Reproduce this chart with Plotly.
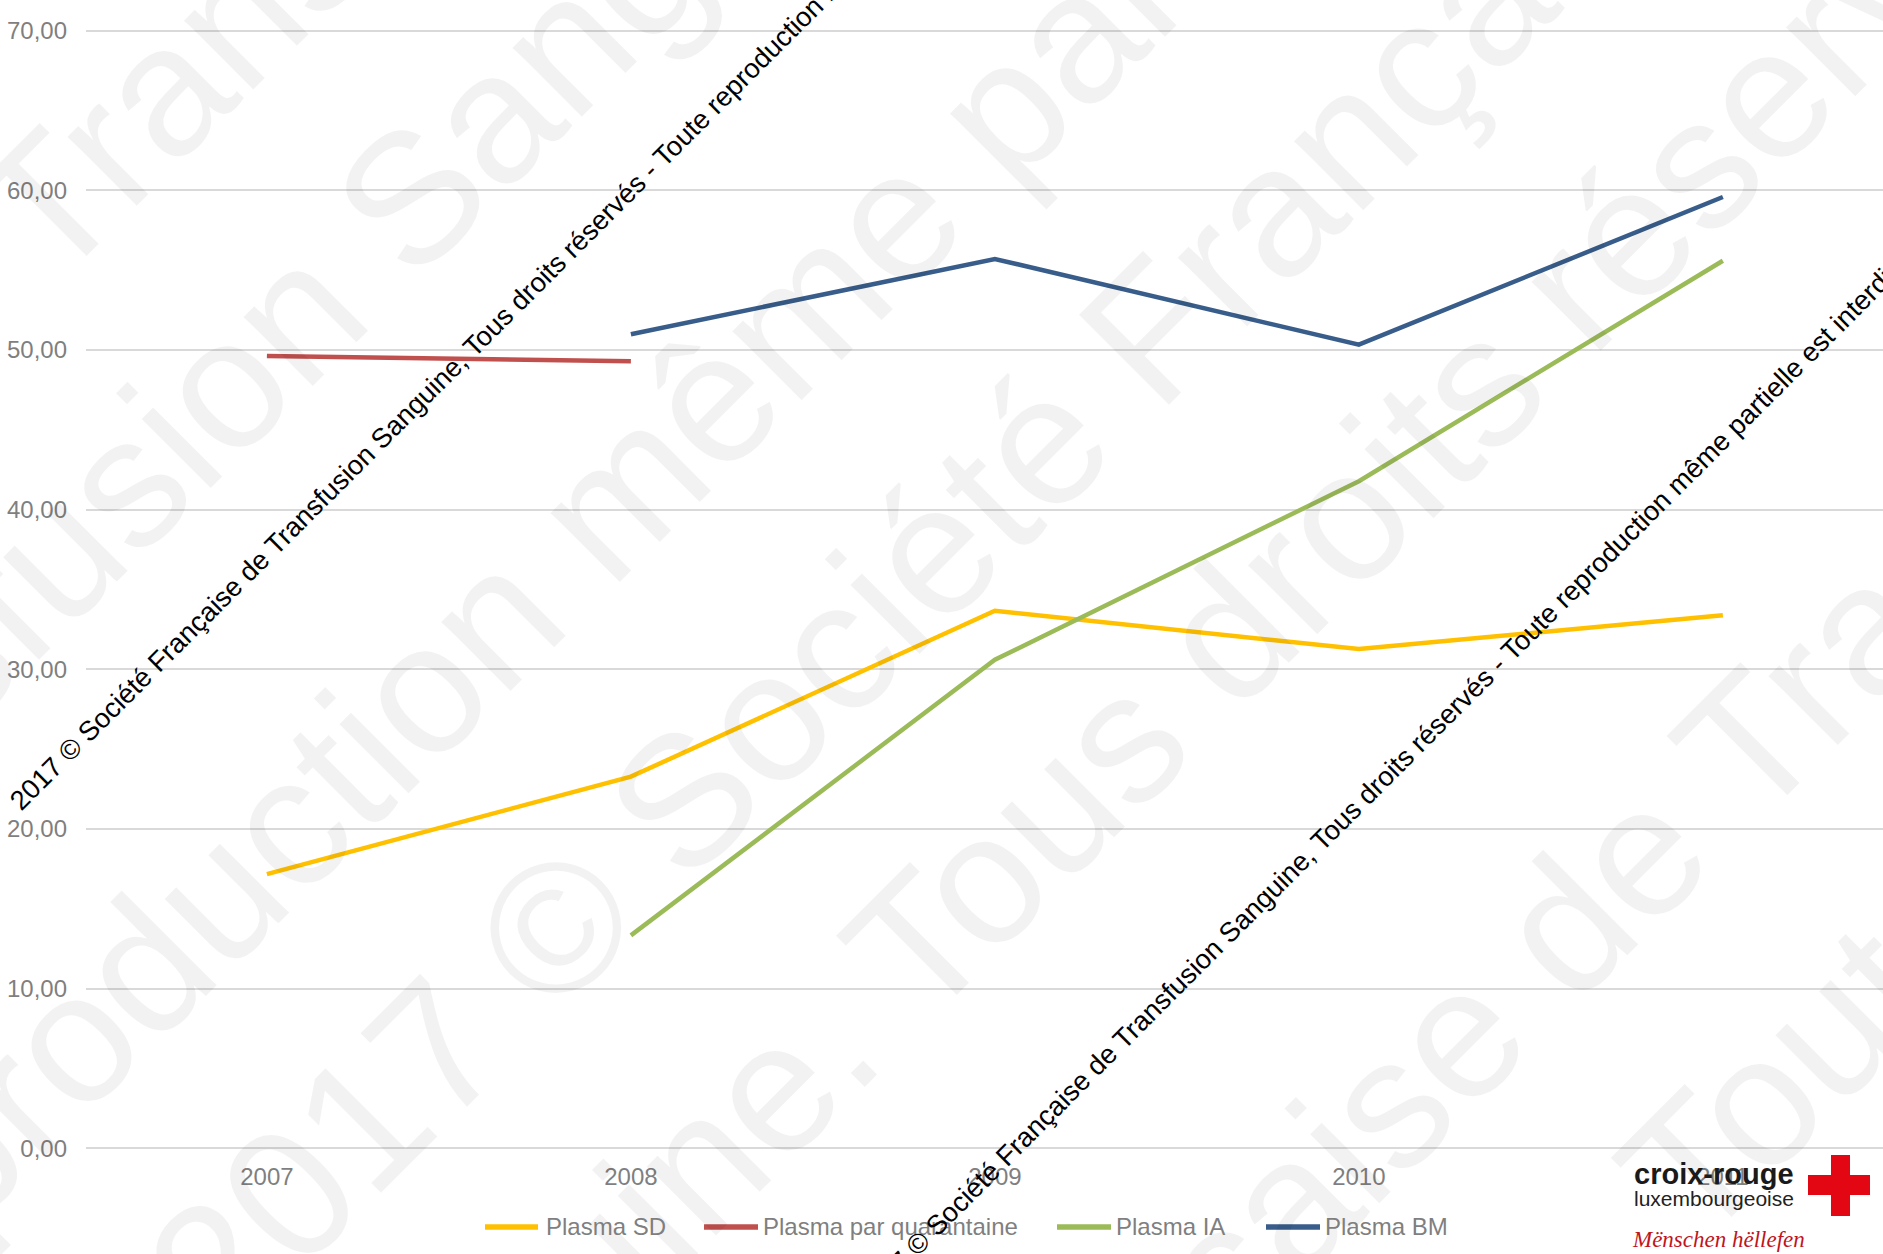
import plotly.graph_objects as go

# ---------------- data ----------------
years = ["2007", "2008", "2009", "2010", "2011"]
plasma_sd = [17.18, 23.28, 33.67, 31.27, 33.39]
plasma_quarantaine = [49.62, 49.30, None, None, None]
plasma_ia = [None, 13.34, 30.60, 41.78, 55.59]
plasma_bm = [None, 50.98, 55.70, 50.33, 59.58]

series_names = ["Plasma SD", "Plasma par quarantaine", "Plasma IA", "Plasma BM"]
series_values = [plasma_sd, plasma_quarantaine, plasma_ia, plasma_bm]
series_colors = ["#FFC000", "#C0504D", "#9BBB59", "#385D8A"]

y_ticks = [0, 10, 20, 30, 40, 50, 60, 70]

copyright_text = ("2017 © Société Française de Transfusion Sanguine, Tous droits réservés - "
                  "Toute reproduction même partielle est interdite")

# ---------------- geometry helpers (pixel -> paper) ----------------
W, H = 1883, 1254
ML, MR, MT, MB = 86, 0, 29.4, 103.9
PW = W - ML - MR
PH = H - MT - MB


def px(x):
    return (x - ML) / PW


def py(y):
    return (H - MB - y) / PH


FONT = "Liberation Sans, Arial, sans-serif"
GREY = "#7F7F7F"

fig = go.Figure()

for name, vals, col in zip(series_names, series_values, series_colors):
    fig.add_trace(go.Scatter(
        x=years, y=vals, name=name, mode="lines",
        line=dict(color=col, width=4.5), connectgaps=False,
    ))

annotations = []
shapes = []

# ---------------- big light watermark ----------------
big_wm = [
    ("de Transfusion", 257, -5),
    ("Transfusion Sanguine", 286, 322),
    ("reproduction même partielle", 612, 499),
    ("2017 © Société Française", 933, 550),
    ("Sanguine. Tous droits réservés", 1151, 710),
    ("Française de Transfusion", 1652, 840),
    ("Toute reproduction", 2194, 664),
]
for txt, cx, cy in big_wm:
    annotations.append(dict(
        text=txt, x=px(cx), y=py(cy), xref="paper", yref="paper",
        showarrow=False, textangle=-45, xanchor="center", yanchor="middle",
        font=dict(family=FONT, size=185, color="rgba(0,0,0,0.05)"),
    ))

# ---------------- manual legend ----------------
legend_items = [(485, 538, 544), (704, 758, 761), (1057, 1111, 1114), (1266, 1320, 1323)]
LEG_Y = 1227
for (x0, x1, xt), name, col in zip(legend_items, series_names, series_colors):
    shapes.append(dict(type="line", xref="paper", yref="paper",
                       x0=px(x0), x1=px(x1), y0=py(LEG_Y), y1=py(LEG_Y),
                       line=dict(color=col, width=5.5)))
    annotations.append(dict(
        text=name, x=px(xt), y=py(LEG_Y), xref="paper", yref="paper",
        showarrow=False, xanchor="left", yanchor="middle",
        font=dict(family=FONT, size=24, color=GREY),
    ))

# ---------------- logo ----------------
shapes.append(dict(type="rect", xref="paper", yref="paper",
                   x0=px(1831), x1=px(1850), y0=py(1155), y1=py(1216),
                   fillcolor="#E30613", line=dict(width=0)))
shapes.append(dict(type="rect", xref="paper", yref="paper",
                   x0=px(1808), x1=px(1870), y0=py(1175), y1=py(1195),
                   fillcolor="#E30613", line=dict(width=0)))
annotations.append(dict(text="<b>croix-rouge</b>", x=px(1714), y=py(1174),
                        xref="paper", yref="paper", showarrow=False,
                        xanchor="center", yanchor="middle",
                        font=dict(family=FONT, size=29, color="#1A1A1A")))
annotations.append(dict(text="luxembourgeoise", x=px(1714), y=py(1199),
                        xref="paper", yref="paper", showarrow=False,
                        xanchor="center", yanchor="middle",
                        font=dict(family=FONT, size=21, color="#222222")))
annotations.append(dict(text="<i>Mënschen hëllefen</i>", x=px(1718), y=py(1240),
                        xref="paper", yref="paper", showarrow=False,
                        xanchor="center", yanchor="middle",
                        font=dict(family="Liberation Serif, serif", size=23, color="#C0141E")))

# ---------------- black diagonal copyright texts ----------------
for cx, cy in [(535, 285), (1383, 779)]:
    annotations.append(dict(
        text=copyright_text, x=px(cx), y=py(cy), xref="paper", yref="paper",
        showarrow=False, textangle=-45, xanchor="center", yanchor="middle",
        font=dict(family=FONT, size=27.4, color="#000000"),
    ))

fig.update_layout(
    width=W, height=H,
    margin=dict(l=ML, r=MR, t=MT, b=MB, pad=0),
    paper_bgcolor="white", plot_bgcolor="white",
    showlegend=False,
    separators=", ",
    annotations=annotations,
    shapes=shapes,
    xaxis=dict(type="category", range=[-0.497, 4.44], showgrid=False,
               zeroline=False, showline=False, ticks="",
               tickfont=dict(family=FONT, size=24, color=GREY),
               ticklabelstandoff=10),
    yaxis=dict(range=[-0.1, 70.1], tickvals=y_ticks, tickformat=".2f",
               showgrid=True, gridcolor="#D9D9D9", gridwidth=1.5,
               zeroline=False, showline=False, ticks="",
               tickfont=dict(family=FONT, size=24, color=GREY),
               ticklabelstandoff=18),
)

fig.write_html("out.html")
